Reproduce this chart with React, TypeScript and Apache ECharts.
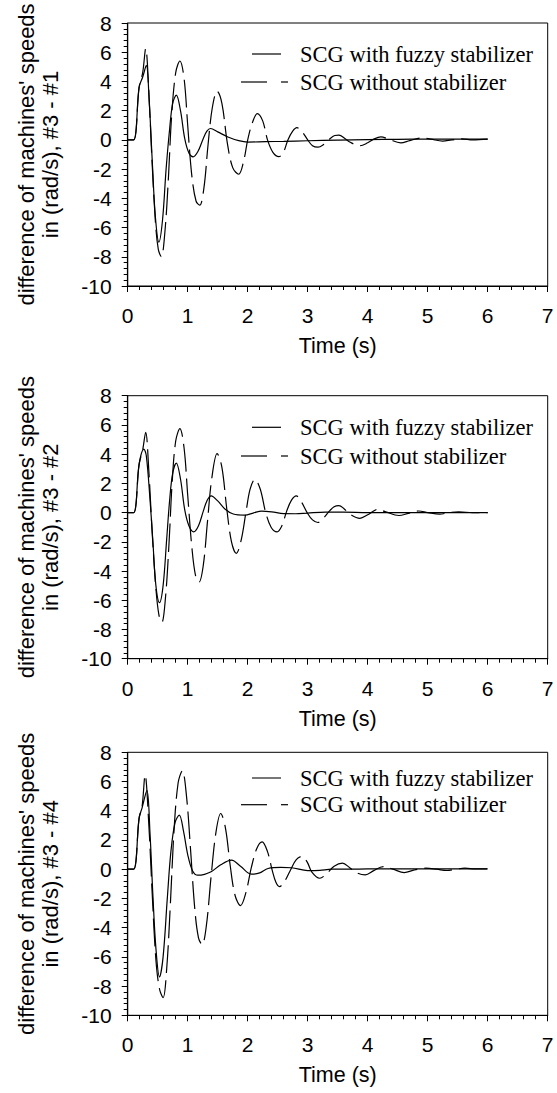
import React, { useEffect, useRef } from "react";
import * as echarts from "echarts";

// ---------- data ----------
const xMin = 0;
const xMax = 7;
const yMin = -10;
const yMax = 8;

const legendLabels = ["SCG with fuzzy stabilizer", "SCG without stabilizer"];
const xTitle = "Time (s)";
const yTitles = [
  "difference of machines' speeds\nin (rad/s), #3 - #1",
  "difference of machines' speeds\nin (rad/s), #3 - #2",
  "difference of machines' speeds\nin (rad/s), #3 - #4",
];

// Panel 1: #3 - #1
const fuzzy31 = [
  [0, 0], [0.1, 0], [0.19, 3.6], [0.25, 4.3], [0.31, 5.1], [0.36, 2.5], [0.41, -1.5],
  [0.46, -5.2], [0.52, -7.0], [0.58, -5.5], [0.64, -2.0], [0.7, 0.8], [0.75, 2.5],
  [0.81, 3.06], [0.88, 2.0], [0.95, 0.1], [1.02, -0.9], [1.09, -1.16], [1.17, -0.8],
  [1.26, 0.1], [1.32, 0.6], [1.38, 0.78], [1.5, 0.55], [1.67, 0.2], [1.85, -0.05],
  [2.0, -0.15], [2.3, -0.12], [2.6, -0.1], [3.0, -0.06], [3.5, -0.02], [4.0, 0.02],
  [4.5, 0.04], [5.0, 0.05], [5.5, 0.05], [6.0, 0.05],
];
const without31 = [
  [0, 0], [0.1, 0], [0.19, 3.6], [0.25, 4.6], [0.3, 6.25], [0.35, 3.5], [0.4, -1],
  [0.46, -5.5], [0.51, -7.5], [0.56, -8.0], [0.62, -6.3], [0.68, -2.5], [0.73, 1.5],
  [0.8, 4.6], [0.87, 5.4], [0.94, 4.2], [1.0, 1.0], [1.07, -2.5], [1.14, -4.2],
  [1.2, -4.47], [1.27, -3.3], [1.34, -0.3], [1.41, 2.2], [1.49, 3.33], [1.57, 2.5],
  [1.66, -0.2], [1.75, -1.9], [1.85, -2.35], [1.93, -1.5], [2.0, 0.0], [2.08, 1.2],
  [2.16, 1.8], [2.25, 1.3], [2.33, 0], [2.42, -0.85], [2.52, -1.15], [2.6, -0.8],
  [2.67, 0], [2.75, 0.6], [2.82, 0.84], [2.9, 0.6], [3.0, 0.0], [3.08, -0.4],
  [3.17, -0.5], [3.27, -0.3], [3.35, 0], [3.45, 0.3], [3.52, 0.33], [3.62, 0.1],
  [3.7, -0.15], [3.87, -0.4], [4.0, -0.2], [4.1, 0.05], [4.22, 0.2], [4.35, 0.05],
  [4.55, -0.2], [4.7, -0.05], [4.9, 0.13], [5.05, 0.05], [5.25, -0.08], [5.4, 0],
  [5.57, 0.07], [5.75, 0.0], [6.0, 0.05],
];

// Panel 2: #3 - #2
const fuzzy32 = [
  [0, 0], [0.1, 0], [0.19, 3.3], [0.27, 4.34], [0.31, 3.9], [0.37, 1.0], [0.42, -2.0],
  [0.47, -5.0], [0.53, -6.16], [0.59, -5.0], [0.65, -1.8], [0.7, 0.9], [0.75, 2.7],
  [0.81, 3.38], [0.88, 2.3], [0.95, 0.2], [1.02, -0.9], [1.1, -1.32], [1.18, -0.9],
  [1.26, 0.1], [1.32, 0.8], [1.39, 1.14], [1.5, 0.8], [1.62, 0.25], [1.76, -0.1],
  [1.95, -0.18], [2.1, -0.02], [2.23, 0.1], [2.4, 0.05], [2.6, -0.07], [2.8, -0.08],
  [3.0, -0.03], [3.3, 0.03], [3.6, 0.03], [4.0, 0.0], [4.5, 0.0], [5.0, 0.0],
  [5.5, 0.0], [6.0, 0.0],
];
const without32 = [
  [0, 0], [0.1, 0], [0.19, 3.3], [0.25, 4.3], [0.3, 5.5], [0.35, 3.0], [0.41, -1.5],
  [0.47, -5.2], [0.52, -7.0], [0.57, -7.5], [0.63, -5.8], [0.69, -2.0], [0.74, 2.0],
  [0.8, 4.9], [0.87, 5.75], [0.94, 4.4], [1.0, 1.2], [1.07, -2.4], [1.13, -4.3],
  [1.19, -4.75], [1.26, -3.6], [1.33, -0.6], [1.4, 2.3], [1.49, 4.04], [1.57, 3.1],
  [1.65, 0.3], [1.73, -2.0], [1.81, -2.79], [1.89, -1.9], [1.97, 0.0], [2.04, 1.6],
  [2.12, 2.28], [2.21, 1.6], [2.3, 0.0], [2.39, -1.0], [2.49, -1.32], [2.57, -0.9],
  [2.65, 0.1], [2.73, 0.85], [2.81, 1.14], [2.9, 0.7], [2.99, 0.0], [3.08, -0.5],
  [3.17, -0.68], [3.26, -0.4], [3.35, 0.05], [3.44, 0.4], [3.52, 0.48], [3.61, 0.25],
  [3.7, -0.1], [3.87, -0.39], [4.0, -0.15], [4.08, 0.05], [4.17, 0.23], [4.3, 0.05],
  [4.52, -0.2], [4.68, -0.05], [4.85, 0.11], [5.0, 0.0], [5.2, -0.11], [5.36, 0.0],
  [5.52, 0.05], [5.75, 0.0], [6.0, 0.0],
];

// Panel 3: #3 - #4
const fuzzy34 = [
  [0, 0], [0.1, 0], [0.19, 3.5], [0.24, 4.2], [0.32, 5.4], [0.37, 2.6], [0.42, -1.8],
  [0.47, -5.4], [0.53, -7.37], [0.59, -6.0], [0.66, -2.0], [0.72, 1.2], [0.79, 3.2],
  [0.86, 3.7], [0.93, 2.6], [1.0, 1.0], [1.08, -0.1], [1.17, -0.41], [1.28, -0.35],
  [1.39, -0.18], [1.55, 0.3], [1.73, 0.62], [1.88, 0.2], [2.06, -0.34], [2.2, -0.25],
  [2.34, 0.05], [2.55, 0.12], [2.73, 0.1], [3.0, -0.1], [3.2, -0.08], [3.4, 0.0],
  [3.7, 0.0], [4.0, 0.02], [4.5, 0.02], [5.0, 0.02], [5.5, 0.02], [6.0, 0.02],
];
const without34 = [
  [0, 0], [0.1, 0], [0.19, 3.5], [0.24, 4.3], [0.29, 6.44], [0.35, 3.2], [0.41, -1.8],
  [0.47, -6.2], [0.53, -8.2], [0.59, -8.79], [0.65, -6.8], [0.71, -2.5], [0.77, 2.5],
  [0.84, 5.9], [0.91, 6.74], [0.98, 5.0], [1.05, 1.2], [1.12, -2.8], [1.18, -4.7],
  [1.24, -5.16], [1.31, -3.9], [1.39, -0.5], [1.47, 2.5], [1.55, 3.81], [1.63, 2.8],
  [1.71, 0.2], [1.79, -1.8], [1.88, -2.49], [1.97, -1.6], [2.06, 0.1], [2.15, 1.4],
  [2.24, 1.87], [2.33, 1.2], [2.41, -0.1], [2.47, -0.9], [2.53, -1.19], [2.62, -0.8],
  [2.72, 0.0], [2.81, 0.65], [2.9, 0.87], [2.99, 0.5], [3.07, -0.2], [3.2, -0.62],
  [3.32, -0.3], [3.44, 0.2], [3.58, 0.41], [3.7, 0.1], [3.82, -0.25], [3.96, -0.39],
  [4.1, -0.1], [4.26, 0.18], [4.42, 0.0], [4.61, -0.23], [4.78, -0.05], [4.97, 0.07],
  [5.15, 0.0], [5.32, -0.09], [5.47, 0.0], [5.62, 0.07], [5.8, 0.02], [6.0, 0.02],
];

const fuzzySeries = [fuzzy31, fuzzy32, fuzzy34];
const withoutSeries = [without31, without32, without34];

// ---------- layout ----------
const W = 557;
const H = 1093;
const gridLeft = 127.7;
const gridWidth = 420;
const gridHeight = 263;
const gridTops = [23, 395.7, 752.3];
const legendRow1 = [31, 31.6, 25.7];
const legendRow2 = [59, 60.3, 52.4];

const sans = "'Liberation Sans', Arial, sans-serif";
const serif = "'Liberation Serif', 'Times New Roman', serif";

export default function App() {
  const ref = useRef<HTMLDivElement>(null);

  useEffect(() => {
    if (!ref.current) return;
    const chart = echarts.init(ref.current, undefined, { renderer: "svg" });

    const grids = gridTops.map((top) => ({
      left: gridLeft,
      top,
      width: gridWidth,
      height: gridHeight,
      show: true,
      borderColor: "#000",
      borderWidth: 1,
      backgroundColor: "transparent",
    }));

    const xAxes = gridTops.map((_, i) => ({
      type: "value",
      gridIndex: i,
      min: xMin,
      max: xMax,
      interval: 1,
      axisLine: { show: true, onZero: false, lineStyle: { color: "#000", width: 1.2 } },
      axisTick: { show: true, inside: false, length: 6, lineStyle: { color: "#000", width: 1 } },
      minorTick: { show: true, splitNumber: 5, length: 4, lineStyle: { color: "#000", width: 1 } },
      splitLine: { show: false },
      minorSplitLine: { show: false },
      axisLabel: { color: "#000", fontFamily: sans, fontSize: 21, margin: 19 },
      name: xTitle,
      nameLocation: "middle",
      nameGap: 49,
      nameTextStyle: { color: "#000", fontFamily: sans, fontSize: 21.5 },
    }));

    const yAxes = gridTops.map((_, i) => ({
      type: "value",
      gridIndex: i,
      min: yMin,
      max: yMax,
      interval: 2,
      axisLine: { show: true, onZero: false, lineStyle: { color: "#000", width: 1.2 } },
      axisTick: { show: true, inside: false, length: 6, lineStyle: { color: "#000", width: 1 } },
      minorTick: { show: true, splitNumber: 5, length: 4, lineStyle: { color: "#000", width: 1 } },
      splitLine: { show: false },
      minorSplitLine: { show: false },
      axisLabel: { color: "#000", fontFamily: sans, fontSize: 21, margin: 16 },
      name: yTitles[i],
      nameLocation: "middle",
      nameRotate: 90,
      nameGap: 65,
      nameTextStyle: { color: "#000", fontFamily: sans, fontSize: 22, lineHeight: 24 },
    }));

    const series: any[] = [];
    gridTops.forEach((_, i) => {
      series.push({
        name: legendLabels[0],
        type: "line",
        xAxisIndex: i,
        yAxisIndex: i,
        data: fuzzySeries[i],
        showSymbol: false,
        smooth: 0.35,
        lineStyle: { color: "#000", width: 1.2, type: "solid" },
      });
      series.push({
        name: legendLabels[1],
        type: "line",
        xAxisIndex: i,
        yAxisIndex: i,
        data: withoutSeries[i],
        showSymbol: false,
        smooth: 0.35,
        lineStyle: { color: "#000", width: 1.2, type: [28, 7] },
      });
    });

    const graphic: any[] = [];
    gridTops.forEach((top, i) => {
      const y1 = top + legendRow1[i];
      const y2 = top + legendRow2[i];
      graphic.push(
        {
          type: "line",
          shape: { x1: 252, y1, x2: 281, y2: y1 },
          style: { stroke: i === 2 ? "#777" : "#000", lineWidth: i === 2 ? 2 : 1.2 },
        },
        {
          type: "text",
          x: 300,
          y: y1,
          style: { text: legendLabels[0], font: `22.5px ${serif}`, fill: "#000", verticalAlign: "middle" },
        },
        {
          type: "line",
          shape: { x1: 241, y1: y2, x2: 267, y2 },
          style: { stroke: "#000", lineWidth: 1.2 },
        },
        {
          type: "line",
          shape: { x1: 281, y1: y2, x2: 288, y2 },
          style: { stroke: "#000", lineWidth: 1.2 },
        },
        {
          type: "text",
          x: 300,
          y: y2,
          style: { text: legendLabels[1], font: `22.5px ${serif}`, fill: "#000", verticalAlign: "middle" },
        }
      );
    });

    chart.setOption({
      animation: false,
      backgroundColor: "#fff",
      grid: grids,
      xAxis: xAxes,
      yAxis: yAxes,
      series,
      graphic,
    });

    return () => chart.dispose();
  }, []);

  return (
    <div
      ref={ref}
      style={{ position: "absolute", left: 0, top: 0, width: W, height: H, background: "#fff" }}
    />
  );
}
